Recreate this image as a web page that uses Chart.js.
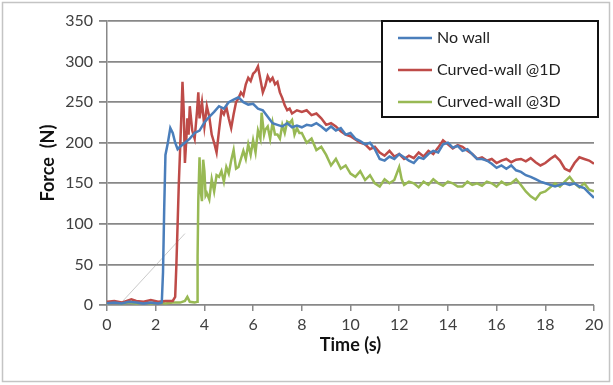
<!DOCTYPE html>
<html>
<head>
<meta charset="utf-8">
<script src="https://cdn.jsdelivr.net/npm/chart.js@4.4.1/dist/chart.umd.min.js"></script>
<style>
  html, body { margin: 0; padding: 0; background: #fff; }
  #wrap { width: 613px; height: 385px; }
</style>
</head>
<body>
<div id="wrap"><canvas id="chart" width="613" height="385"></canvas></div>
<script>
// tick labels
const xTicks = [0, 2, 4, 6, 8, 10, 12, 14, 16, 18, 20];
const yTicks = [0, 50, 100, 150, 200, 250, 300, 350];

// No wall
const noWallTime = [0, 0.3, 0.6, 0.9, 1.2, 1.5, 1.8, 2.1, 2.25, 2.3, 2.35, 2.4, 2.5, 2.6, 2.7, 2.8, 2.9, 3.0, 3.2, 3.4, 3.6, 3.8, 4.0, 4.2, 4.4, 4.6, 4.8, 5.0, 5.2, 5.4, 5.6, 5.8, 6.0, 6.2, 6.4, 6.6, 6.8, 7.0, 7.2, 7.4, 7.6, 7.8, 8.0, 8.2, 8.4, 8.6, 8.8, 9.0, 9.2, 9.4, 9.6, 9.8, 10.0, 10.2, 10.4, 10.6, 10.8, 11.0, 11.2, 11.4, 11.6, 11.8, 12.0, 12.2, 12.4, 12.6, 12.8, 13.0, 13.2, 13.4, 13.6, 13.8, 14.0, 14.2, 14.4, 14.6, 14.8, 15.0, 15.2, 15.4, 15.6, 15.8, 16.0, 16.2, 16.4, 16.6, 16.8, 17.0, 17.2, 17.4, 17.6, 17.8, 18.0, 18.2, 18.4, 18.6, 18.8, 19.0, 19.2, 19.4, 19.6, 19.8, 20.0];
const noWallForce = [2, 3, 2, 4, 3, 2, 3, 2, 3, 40, 120, 185, 200, 218, 212, 200, 192, 195, 200, 205, 212, 215, 225, 232, 238, 245, 242, 250, 253, 256, 250, 247, 248, 242, 240, 232, 224, 222, 220, 224, 219, 221, 219, 222, 221, 224, 220, 215, 220, 215, 218, 210, 212, 205, 202, 198, 200, 192, 180, 178, 183, 180, 186, 182, 178, 175, 182, 180, 186, 190, 188, 198, 200, 194, 196, 190, 192, 186, 180, 180, 178, 174, 169, 172, 168, 172, 166, 164, 160, 158, 155, 152, 150, 148, 146, 148, 150, 148, 150, 146, 144, 138, 132];

// Curved-wall @1D
const wall1DTime = [0, 0.3, 0.6, 0.9, 1.0, 1.2, 1.5, 1.8, 2.1, 2.4, 2.7, 2.8, 2.85, 2.9, 2.95, 3.0, 3.05, 3.1, 3.15, 3.2, 3.25, 3.3, 3.35, 3.4, 3.5, 3.6, 3.7, 3.75, 3.8, 3.9, 4.0, 4.1, 4.2, 4.3, 4.4, 4.5, 4.6, 4.7, 4.8, 4.9, 5.0, 5.1, 5.2, 5.3, 5.4, 5.5, 5.6, 5.7, 5.8, 5.9, 6.0, 6.1, 6.2, 6.3, 6.4, 6.5, 6.6, 6.7, 6.8, 6.9, 7.0, 7.1, 7.2, 7.3, 7.4, 7.5, 7.6, 7.8, 8.0, 8.2, 8.4, 8.6, 8.8, 9.0, 9.2, 9.4, 9.6, 9.8, 10.0, 10.2, 10.4, 10.6, 10.8, 11.0, 11.2, 11.4, 11.6, 11.8, 12.0, 12.2, 12.4, 12.6, 12.8, 13.0, 13.2, 13.4, 13.6, 13.8, 14.0, 14.2, 14.4, 14.6, 14.8, 15.0, 15.2, 15.4, 15.6, 15.8, 16.0, 16.2, 16.4, 16.6, 16.8, 17.0, 17.2, 17.4, 17.6, 17.8, 18.0, 18.2, 18.4, 18.6, 18.8, 19.0, 19.2, 19.4, 19.6, 19.8, 20.0];
const wall1DForce = [4, 5, 3, 6, 7, 5, 4, 6, 4, 5, 5, 10, 50, 100, 150, 190, 230, 275, 240, 175, 200, 230, 210, 245, 215, 205, 240, 262, 230, 250, 220, 245, 232, 210, 200, 188, 215, 240, 235, 244, 230, 218, 235, 250, 255, 262, 258, 272, 280, 276, 285, 288, 294, 278, 262, 270, 282, 276, 280, 272, 275, 262, 255, 246, 240, 242, 236, 240, 238, 240, 234, 236, 230, 222, 224, 220, 214, 210, 208, 204, 200, 198, 192, 195, 188, 184, 190, 183, 186, 180, 184, 181, 188, 183, 190, 186, 194, 203, 198, 193, 197, 195, 190, 186, 180, 182, 178, 180, 175, 178, 180, 176, 179, 180, 177, 181, 176, 172, 175, 180, 184, 178, 168, 165, 175, 182, 180, 178, 174];

// Curved-wall @3D
const wall3DTime = [0, 0.3, 0.6, 0.9, 1.2, 1.5, 1.8, 2.1, 2.4, 2.7, 3.0, 3.2, 3.3, 3.4, 3.6, 3.7, 3.72, 3.75, 3.8, 3.85, 3.9, 3.95, 4.0, 4.05, 4.1, 4.2, 4.3, 4.4, 4.5, 4.6, 4.7, 4.8, 4.9, 5.0, 5.1, 5.2, 5.3, 5.4, 5.5, 5.6, 5.7, 5.8, 5.9, 6.0, 6.1, 6.2, 6.3, 6.35, 6.45, 6.5, 6.6, 6.7, 6.8, 6.9, 7.0, 7.1, 7.2, 7.3, 7.4, 7.5, 7.6, 7.7, 7.8, 7.9, 8.0, 8.2, 8.4, 8.6, 8.8, 9.0, 9.2, 9.4, 9.6, 9.8, 10.0, 10.2, 10.4, 10.6, 10.8, 11.0, 11.2, 11.4, 11.6, 11.8, 12.0, 12.1, 12.2, 12.4, 12.6, 12.8, 13.0, 13.2, 13.4, 13.6, 13.8, 14.0, 14.2, 14.4, 14.6, 14.8, 15.0, 15.2, 15.4, 15.6, 15.8, 16.0, 16.2, 16.4, 16.6, 16.8, 17.0, 17.2, 17.4, 17.6, 17.8, 18.0, 18.2, 18.4, 18.6, 18.8, 19.0, 19.2, 19.4, 19.6, 19.8, 20.0];
const wall3DForce = [2, 3, 2, 3, 2, 3, 2, 3, 2, 3, 3, 5, 10, 4, 3, 4, 60, 130, 182, 140, 128, 179, 165, 135, 138, 130, 155, 140, 160, 158, 165, 152, 170, 162, 178, 191, 168, 170, 180, 190, 180, 198, 185, 203, 188, 215, 205, 237, 210, 216, 220, 205, 225, 210, 210, 205, 222, 212, 226, 224, 228, 210, 218, 212, 212, 200, 205, 191, 195, 185, 172, 180, 168, 172, 162, 158, 165, 154, 160, 150, 146, 155, 150, 154, 170, 155, 148, 152, 150, 145, 152, 148, 155, 150, 147, 152, 150, 146, 146, 152, 148, 150, 147, 152, 150, 146, 152, 148, 150, 155, 148, 140, 134, 130, 138, 140, 145, 150, 146, 152, 158, 150, 145, 150, 142, 140];

// faint grey line near the origin
const guideTime = [0.5, 3.2];
const guideForce = [0, 88];

function toPoints(xs, ys) {
  return xs.map((x, i) => ({ x: x, y: ys[i] }));
}

const FONT = "Lato, 'Open Sans', sans-serif";

const frameAndLegend = {
  id: "frameAndLegend",
  beforeDraw(chart) {
    const c = chart.ctx;
    c.save();
    c.fillStyle = "#fff";
    c.fillRect(0, 0, chart.width, chart.height);
    c.strokeStyle = "#c4c4c4";
    c.lineWidth = 1.5;
    c.strokeRect(2.5, 2.5, chart.width - 6, chart.height - 6);
    c.restore();
  },
  afterDraw(chart) {
    const c = chart.ctx;
    const sets = chart.data.datasets.filter((d) => d.label);
    const x0 = 382, y0 = 21, w = 216, h = 96;
    c.save();
    c.fillStyle = "#fff";
    c.fillRect(x0, y0, w, h);
    c.strokeStyle = "#111";
    c.lineWidth = 2;
    c.strokeRect(x0, y0, w, h);
    c.font = "16px " + FONT;
    c.textBaseline = "middle";
    sets.forEach((d, i) => {
      const y = y0 + 17 + i * 32;
      c.strokeStyle = d.borderColor;
      c.lineWidth = 2.5;
      c.beginPath();
      c.moveTo(x0 + 16, y);
      c.lineTo(x0 + 50, y);
      c.stroke();
      c.fillStyle = "#222";
      c.fillText(d.label, x0 + 55, y);
    });
    c.restore();
  },
};

const ctx = document.getElementById("chart").getContext("2d");
const myChart = new Chart(ctx, {
  type: "line",
  data: {
    datasets: [
      {
        label: "No wall",
        data: toPoints(noWallTime, noWallForce),
        borderColor: "#4a7ebb",
        borderWidth: 2.5,
      },
      {
        label: "Curved-wall @1D",
        data: toPoints(wall1DTime, wall1DForce),
        borderColor: "#be4b48",
        borderWidth: 2.5,
      },
      {
        label: "Curved-wall @3D",
        data: toPoints(wall3DTime, wall3DForce),
        borderColor: "#98b954",
        borderWidth: 2.5,
      },
      {
        label: "",
        data: toPoints(guideTime, guideForce),
        borderColor: "rgba(150,150,150,0.5)",
        borderWidth: 1,
      },
    ],
  },
  options: {
    responsive: false,
    animation: false,
    layout: { padding: { left: 33, right: 19, top: 21, bottom: 25 } },
    elements: { point: { radius: 0 }, line: { tension: 0 } },
    plugins: { legend: { display: false }, tooltip: { enabled: false } },
    scales: {
      x: {
        type: "linear",
        min: 0,
        max: 20,
        afterBuildTicks: (s) => { s.ticks = xTicks.map((v) => ({ value: v })); },
        afterFit: (s) => { s.height = 55; },
        grid: { drawOnChartArea: false, drawTicks: true, tickLength: 6, color: "#8a8a8a", lineWidth: 1.5 },
        border: { display: false },
        ticks: { color: "#404040", font: { family: FONT, size: 16 }, padding: 4, maxRotation: 0 },
        title: { display: true, text: "Time (s)", color: "#111", font: { family: FONT, size: 18, weight: "bold" }, padding: { top: 2 } },
      },
      y: {
        min: 0,
        max: 350,
        afterBuildTicks: (s) => { s.ticks = yTicks.map((v) => ({ value: v })); },
        afterFit: (s) => { s.width = 74; },
        grid: { color: "#888", lineWidth: 1.8, tickLength: 8 },
        border: { color: "#888", width: 1.5 },
        ticks: { color: "#404040", font: { family: FONT, size: 16 }, padding: 6 },
        title: { display: true, text: "Force  (N)", color: "#111", font: { family: FONT, size: 18, weight: "bold" }, padding: { bottom: 4 } },
      },
    },
  },
  plugins: [frameAndLegend],
});
</script>
</body>
</html>
